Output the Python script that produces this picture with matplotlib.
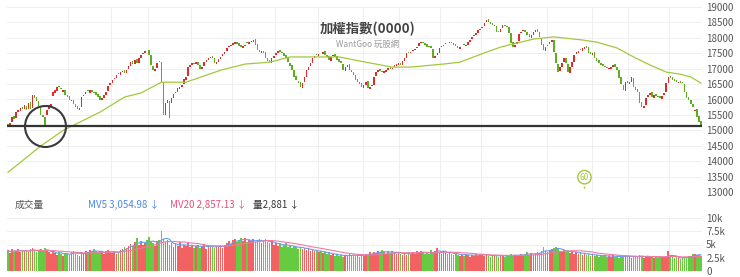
import numpy as np
import pandas as pd
import matplotlib
matplotlib.use('Agg')
import matplotlib.pyplot as plt

plt.rcParams['font.family'] = ['Noto Sans CJK TC', 'DejaVu Sans']

# 收盤價 (每列 10 根 K 棒)
close = [
    15100, 15250, 15430, 15380, 15590, 15650, 15720, 15680, 15820, 15650,
    15900, 15700, 16140, 16050, 15950, 15800, 15490, 15420, 15170, 15650,
    15820, 15850, 16250, 16300, 16420, 16400, 16350, 16300, 16150, 16080,
    16000, 15980, 15850, 15750, 15700, 15720, 16080, 16150, 16240, 16280,
    16300, 16250, 16200, 16150, 16080, 16000, 16045, 16150, 16240, 16450,
    16530, 16630, 16700, 16790, 16820, 16890, 16930, 16850, 16950, 17100,
    17210, 17150, 17280, 17180, 17350, 17440, 17500, 17570, 17600, 17450,
    17120, 16950, 17000, 17180, 17210, 16560, 15500, 15900, 16000, 15400,
    16040, 16180, 16250, 16370, 16400, 16470, 16650, 16730, 17050, 17120,
    17180, 17150, 17210, 17120, 17000, 17050, 17210, 17280, 17340, 17380,
    17340, 17180, 17210, 17300, 17380, 17460, 17540, 17670, 17720, 17770,
    17830, 17860, 17800, 17750, 17700, 17720, 17770, 17820, 17860, 17900,
    17930, 17770, 17600, 17540, 17560, 17510, 17340, 17250, 17210, 17340,
    17420, 17510, 17570, 17540, 17510, 17420, 17340, 17210, 17100, 16950,
    16730, 16630, 16530, 16400, 16550, 16730, 16950, 17050, 17180, 17340,
    17400, 17440, 17470, 17500, 17540, 17450, 17380, 17280, 17380, 17440,
    17380, 17280, 17230, 17180, 16950, 17050, 17120, 16950, 16880, 16790,
    16630, 16560, 16500, 16400, 16480, 16570, 16370, 16420, 16470, 16730,
    16890, 16950, 16920, 16890, 16920, 16950, 17020, 17000, 17020, 17120,
    17150, 17180, 17120, 17250, 17340, 17510, 17520, 17540, 17600, 17650,
    17700, 17830, 17860, 17820, 17770, 17700, 17690, 17670, 17340, 17420,
    17510, 17670, 17720, 17770, 17830, 17850, 17860, 17830, 17770, 17720,
    17670, 17700, 17740, 17770, 17770, 17850, 17930, 18030, 18090, 18160,
    18250, 18300, 18350, 18480, 18580, 18500, 18450, 18420, 18420, 18190,
    18190, 18300, 18400, 18380, 18350, 18160, 17830, 17700, 17780, 17860,
    18140, 18200, 18250, 18190, 18100, 18030, 18090, 18180, 18250, 18190,
    18030, 17770, 17600, 17700, 17770, 17860, 17930, 17540, 17180, 16890,
    17050, 17200, 17340, 17180, 16890, 17050, 17210, 17440, 17540, 17580,
    17600, 17670, 17700, 17670, 17510, 17480, 17510, 17340, 17250, 17180,
    17120, 17080, 17050, 17020, 17030, 17050, 17120, 17050, 16950, 16700,
    16500, 16300, 16560, 16540, 16560, 16730, 16400, 16300, 16240, 15900,
    15750, 15800, 16050, 16150, 16210, 16080, 16140, 16100, 16080, 16050,
    16120, 16210, 16530, 16730, 16700, 16630, 16600, 16560, 16570, 16550,
    16530, 16240, 16050, 15980, 15850, 15750, 15660, 15430, 15270, 15140,
]

# 開盤價
opens = [
    15200, 15120, 15260, 15450, 15400, 15600, 15640, 15760, 15690, 15800,
    15680, 15920, 15720, 16160, 16080, 15960, 15780, 15500, 15430, 15500,
    15680, 15800, 16100, 16200, 16280, 16450, 16380, 16250, 16320, 16150,
    16100, 15950, 15990, 15870, 15780, 15650, 15760, 16100, 16180, 16300,
    16220, 16320, 16240, 16230, 16170, 16100, 15980, 16060, 16160, 16260,
    16460, 16540, 16650, 16710, 16860, 16800, 16880, 16960, 16870, 16980,
    17080, 17250, 17160, 17300, 17200, 17360, 17460, 17510, 17620, 17610,
    17430, 17100, 16930, 17020, 17240, 17220, 16550, 15500, 15880, 15950,
    15900, 16060, 16200, 16240, 16350, 16420, 16500, 16640, 16760, 17060,
    17110, 17200, 17160, 17230, 17130, 16980, 17080, 17220, 17290, 17330,
    17400, 17350, 17150, 17230, 17320, 17400, 17480, 17560, 17690, 17740,
    17760, 17800, 17880, 17820, 17770, 17680, 17740, 17850, 17800, 17870,
    17880, 17950, 17790, 17620, 17520, 17580, 17530, 17360, 17270, 17200,
    17360, 17430, 17500, 17590, 17550, 17500, 17440, 17350, 17200, 17120,
    16960, 16750, 16600, 16560, 16380, 16580, 16740, 16960, 17080, 17190,
    17360, 17480, 17420, 17520, 17480, 17560, 17430, 17400, 17260, 17400,
    17460, 17400, 17300, 17250, 17150, 16930, 17060, 17140, 16970, 16900,
    16810, 16650, 16580, 16520, 16380, 16460, 16590, 16350, 16440, 16480,
    16750, 16900, 16980, 16930, 16870, 16900, 16960, 17060, 16980, 17040,
    17100, 17130, 17200, 17110, 17260, 17360, 17550, 17500, 17560, 17610,
    17660, 17720, 17840, 17880, 17830, 17790, 17720, 17720, 17650, 17330,
    17440, 17520, 17690, 17730, 17790, 17870, 17830, 17880, 17840, 17790,
    17740, 17650, 17720, 17800, 17750, 17780, 17870, 17950, 18050, 18100,
    18170, 18270, 18320, 18370, 18500, 18600, 18520, 18470, 18380, 18400,
    18220, 18180, 18320, 18430, 18400, 18360, 18150, 17850, 17690, 17790,
    17900, 18160, 18220, 18270, 18200, 18120, 18010, 18100, 18190, 18280,
    18200, 18010, 17790, 17580, 17720, 17790, 17880, 17920, 17520, 17160,
    16920, 17070, 17230, 17360, 17150, 16870, 17070, 17230, 17460, 17520,
    17630, 17580, 17640, 17740, 17690, 17530, 17450, 17530, 17360, 17280,
    17200, 17150, 17100, 17070, 16990, 17000, 17060, 17150, 17070, 16970,
    16720, 16480, 16290, 16600, 16510, 16580, 16700, 16420, 16330, 16250,
    15920, 15730, 15810, 16070, 16160, 16230, 16060, 16170, 16120, 16100,
    16030, 16130, 16230, 16550, 16750, 16720, 16650, 16620, 16540, 16600,
    16570, 16510, 16230, 16070, 16000, 15870, 15640, 15680, 15450, 15300,
]

# 成交量 (千)
volume_k = [
    3.9, 3.4, 4.1, 3.6, 3.8, 4.2, 3.5, 3.9, 3.7, 4.0,
    3.6, 4.1, 4.4, 3.8, 3.5, 3.9, 4.2, 3.7, 4.3, 3.9,
    3.5, 3.2, 3.8, 3.4, 3.1, 3.6, 3.3, 2.9, 3.4, 3.2,
    3.0, 3.5, 3.8, 3.3, 3.1, 2.9, 3.6, 3.4, 3.8, 3.5,
    3.9, 3.6, 4.1, 3.7, 3.4, 3.8, 3.5, 3.3, 3.7, 3.9,
    3.6, 3.4, 3.8, 3.3, 3.5, 3.9, 4.2, 4.6, 4.3, 4.8,
    5.1, 4.7, 5.4, 6.2, 5.0, 5.6, 4.9, 5.3, 5.8, 6.4,
    5.5, 5.2, 4.8, 5.7, 5.9, 7.5, 6.1, 5.4, 5.8, 5.0,
    5.3, 4.6, 5.1, 4.8, 5.5, 4.4, 5.0, 4.7, 5.2, 4.5,
    4.9, 4.3, 4.8, 5.0, 4.4, 4.6, 5.1, 4.2, 4.7, 4.9,
    4.5, 4.3, 4.8, 4.6, 5.0, 4.4, 4.9, 5.3, 5.6, 5.1,
    5.8, 6.1, 5.5, 5.9, 6.3, 5.7, 6.2, 5.4, 5.9, 5.6,
    6.0, 5.5, 5.8, 6.1, 5.3, 5.7, 6.0, 5.4, 5.2, 5.6,
    5.0, 5.3, 4.8, 5.1, 4.6, 4.9, 5.2, 4.5, 4.7, 4.3,
    4.8, 4.5, 4.2, 4.6, 4.1, 4.4, 3.9, 4.2, 3.8, 4.0,
    3.7, 3.9, 3.5, 3.8, 3.4, 3.6, 3.2, 3.5, 3.0, 3.3,
    2.9, 3.2, 2.8, 3.1, 2.7, 3.0, 2.8, 3.2, 2.9, 3.1,
    2.8, 3.0, 2.7, 3.2, 2.9, 3.3, 3.1, 3.5, 3.2, 3.6,
    3.4, 3.8, 3.5, 3.9, 3.6, 3.3, 3.7, 3.4, 3.8, 3.5,
    3.2, 3.6, 3.3, 3.0, 3.4, 3.1, 3.5, 3.2, 3.6, 3.3,
    3.7, 3.4, 3.8, 3.5, 3.2, 3.6, 3.3, 3.9, 3.4, 3.7,
    4.4, 3.6, 3.3, 3.8, 3.5, 3.2, 3.6, 3.3, 3.0, 3.4,
    3.1, 2.8, 3.2, 2.9, 3.3, 3.0, 2.7, 3.1, 2.8, 3.2,
    2.9, 3.3, 3.0, 2.8, 3.2, 2.9, 2.7, 3.1, 2.8, 3.0,
    2.7, 3.1, 2.9, 2.6, 3.0, 2.8, 3.2, 2.9, 3.1, 2.8,
    3.0, 3.3, 2.9, 3.2, 3.5, 3.1, 3.4, 3.0, 3.3, 3.6,
    3.4, 3.8, 4.5, 3.7, 3.5, 3.9, 4.2, 4.4, 4.5, 4.3,
    3.8, 3.5, 3.9, 3.6, 4.0, 3.4, 3.7, 3.3, 3.6, 3.2,
    3.5, 3.1, 3.4, 3.0, 3.3, 2.9, 3.2, 2.8, 3.1, 2.7,
    3.0, 2.8, 3.1, 2.6, 2.9, 2.7, 3.0, 2.6, 2.8, 2.5,
    2.9, 2.7, 3.0, 2.6, 2.8, 2.5, 2.9, 2.7, 2.6, 3.0,
    2.8, 2.5, 2.7, 2.9, 2.6, 2.8, 2.5, 2.7, 2.4, 2.6,
    2.5, 2.7, 2.9, 3.7, 2.8, 2.6, 2.4, 2.7, 2.5, 2.3,
    2.5, 2.7, 2.6, 2.8, 2.9, 3.12, 3.26, 3.01, 3.004, 2.881,
]

# 60 日均線 (讀圖取點)
ma60_idx = [0, 16, 27, 45, 57, 65, 75, 87, 104, 116, 128, 138, 154, 162, 175,
            188, 197, 213, 221, 233, 241, 257, 267, 281, 288, 298, 306, 314,
            322, 329, 334, 339]
ma60_val = [13640, 14490, 15000, 15590, 16080, 16210, 16560, 16560, 16950,
            17150, 17210, 17380, 17380, 17380, 17210, 17050, 17050, 17150,
            17210, 17510, 17700, 17960, 18030, 17930, 17860, 17670, 17380,
            17120, 16890, 16820, 16730, 16530]

month_starts = [30, 51, 69, 90, 110, 131, 152, 174, 192, 212, 232, 264, 286, 304, 324]
price_ticks = [13000, 13500, 14000, 14500, 15000, 15500, 16000, 16500,
               17000, 17500, 18000, 18500, 19000]
vol_ticks = [0, 2500, 5000, 7500, 10000]
vol_labels = ['0', '2.5k', '5k', '7.5k', '10k']

RED = '#dc2b2b'
GREEN = '#5fae22'
VRED = '#f26262'
VGREEN = '#66cb40'
MA_GREEN = '#a2c83c'

close = np.array(close, dtype=float)
opens = np.array(opens, dtype=float)
n = len(close)
x = np.arange(n)
up = close >= opens
vol = np.array(volume_k) * 1000

fig = plt.figure(figsize=(7.4, 2.77), dpi=100)
ax = fig.add_axes([7 / 740, 85 / 277, 695 / 740, 185 / 277])
axv = fig.add_axes([7 / 740, 6 / 277, 695 / 740, 53 / 277])

for a in (ax, axv):
    for s in a.spines.values():
        s.set_visible(False)
    a.set_xlim(-0.5, n - 0.5)
    a.set_xticks([m - 0.5 for m in month_starts])
    a.yaxis.tick_right()
    a.tick_params(length=0, labelbottom=False, labelsize=7, labelcolor='#555', pad=3)
    a.grid(True, color='#ececec', lw=0.6)
    a.set_axisbelow(True)

# K 棒
ax.bar(x, close - opens, bottom=opens, width=0.75,
       color=np.where(up, RED, GREEN), linewidth=0)
ax.plot(ma60_idx, ma60_val, color=MA_GREEN, lw=0.9)
ax.axhline(close[-1], color='#333333', lw=1.6)
ax.plot([18], [close[-1]], 'o', ms=29.5, mfc='none', mec='#3a3a3a', mew=1.5)
ax.annotate('60', xy=(282, 13030), xytext=(0, 10), textcoords='offset points',
            ha='center', va='center', fontsize=6, color=MA_GREEN,
            bbox=dict(boxstyle='circle,pad=0.25', fc='white', ec=MA_GREEN, lw=1),
            arrowprops=dict(arrowstyle='-', color=MA_GREEN, lw=1))
ax.set_ylim(13000, 19000)
ax.set_yticks(price_ticks)

# 成交量
axv.bar(x, vol, width=0.8, color=np.where(up, VRED, VGREEN), linewidth=0)
vs = pd.Series(vol)
axv.plot(x, vs.rolling(5, min_periods=1).mean(), color='#6a9cf0', lw=0.8)
axv.plot(x, vs.rolling(20, min_periods=1).mean(), color='#f07aa0', lw=0.8)
axv.set_ylim(0, 10000)
axv.set_yticks(vol_ticks)
axv.set_yticklabels(vol_labels)

fig.text(368 / 740, 1 - 29 / 277, '加權指數(0000)', ha='center', va='center',
         fontsize=9.6, fontweight='bold', color='#444444')
fig.text(368 / 740, 1 - 44 / 277, 'WantGoo 玩股網', ha='center', va='center',
         fontsize=6, color='#9a9a9a')

hy = 1 - 205 / 277
fig.text(15 / 740, hy, '成交量', va='center', fontsize=7, color='#555555')
fig.text(88 / 740, hy, 'MV5 3,054.98 ↓', va='center', fontsize=7, color='#4a86e8')
fig.text(170 / 740, hy, 'MV20 2,857.13 ↓', va='center', fontsize=7, color='#e8507a')
fig.text(253 / 740, hy, '量2,881 ↓', va='center', fontsize=7, color='#333333')

fig.savefig('out.png', dpi=100)
